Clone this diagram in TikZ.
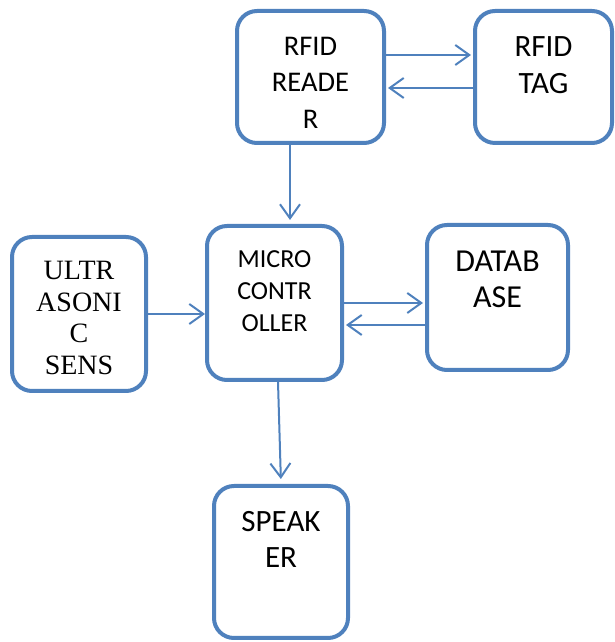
\documentclass[tikz,border=0pt]{standalone}
\usepackage{fontspec}
\setmainfont{Liberation Serif}
\newfontfamily\calfont{Carlito}
\usetikzlibrary{positioning,arrows.meta}
\definecolor{boxblue}{RGB}{79,129,189}

\begin{document}
\begin{tikzpicture}[x=1pt, y=1pt,
  block/.style = {draw=boxblue, line width=4pt, rounded corners=20pt, fill=white},
  txt/.style = {align=center, inner sep=0pt},
  arr/.style = {draw=boxblue, line width=2pt, shorten >=2pt, -{Straight Barb[length=14pt, width=20pt]}}]

\useasboundingbox (0,0) rectangle (615,642);

% blocks
\node[block, minimum width=147pt, minimum height=132pt] (reader) at (310.5,565) {};
\node[block, minimum width=137pt, minimum height=132pt] (tag) at (543.5,565) {};
\node[block, minimum width=134pt, minimum height=154pt] (ultra) at (79,328) {};
\node[block, minimum width=135pt, minimum height=154pt] (micro) at (274.5,339) {};
\node[block, minimum width=141pt, minimum height=145pt] (db) at (497.5,344.5) {};
\node[block, minimum width=134pt, minimum height=152pt] (speaker) at (281,80) {};

% labels
\node[txt, font=\calfont\fontsize{28.5}{36.5}\selectfont, below=28pt of reader.north] (readertxt) {RFID\\READE\\R};
\node[txt, font=\calfont\fontsize{31}{37}\selectfont, below=27pt of tag.north] (tagtxt) {RFID\\TAG};
\node[txt, font=\fontsize{28}{31.5}\selectfont, below=26pt of ultra.north] (ultratxt) {ULTR\\ASONI\\C\\SENS};
\node[txt, font=\calfont\fontsize{26}{32}\selectfont, below=26pt of micro.north] (microtxt) {MICRO\\CONTR\\OLLER};
\node[txt, font=\calfont\fontsize{32}{36}\selectfont, below=28pt of db.north] (dbtxt) {DATAB\\ASE};
\node[txt, font=\calfont\fontsize{31}{36}\selectfont, below=27pt of speaker.north] (speakertxt) {SPEAK\\ER};

% connections
\draw[arr] ([yshift=22pt]reader.east) -- ([yshift=22pt]tag.west);
\draw[arr] ([yshift=-11pt]tag.west) -- ([yshift=-11pt]reader.east);
\draw[arr, shorten >=4pt] ([xshift=-20.5pt]reader.south) -- ([xshift=-20.5pt]reader.south |- micro.north);
\draw[arr, shorten >=0pt] (ultra.east) -- (ultra.east -| micro.west);
\draw[arr] (micro.east) -- (micro.east -| db.west);
\draw[arr] ([yshift=-27.5pt]db.west) -- ([yshift=-27.5pt]db.west -| micro.east);
\draw[arr, shorten >=5pt] ([xshift=3.5pt]micro.south) -- (speaker.north);

\end{tikzpicture}
\end{document}
